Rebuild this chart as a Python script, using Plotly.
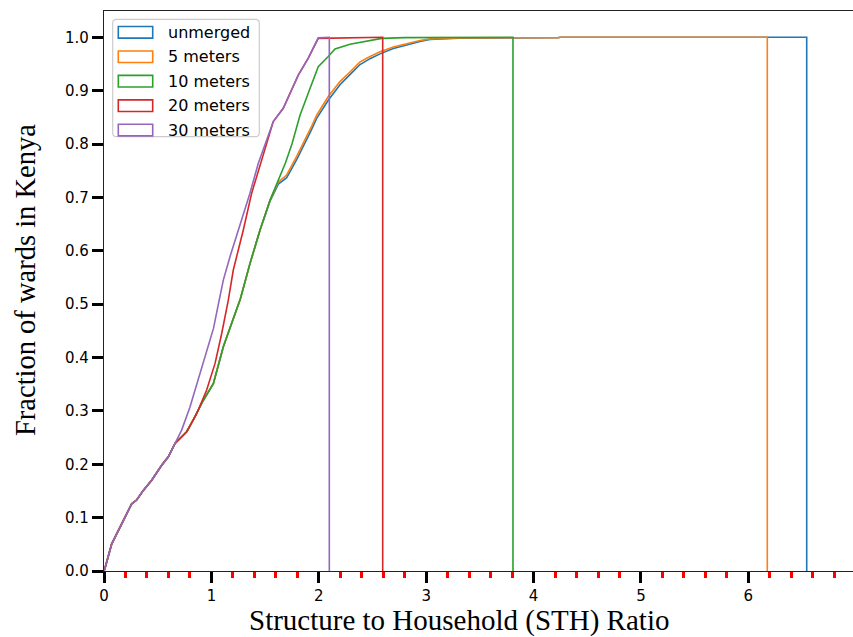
import plotly.graph_objects as go

# ---------------- data ----------------
series_names = ["unmerged", "5 meters", "10 meters", "20 meters", "30 meters"]
series_colors = ["#1f77b4", "#ff7f0e", "#2ca02c", "#d62728", "#9467bd"]

unmerged_x = [0.0, 0.009, 0.072, 0.118, 0.18, 0.258, 0.304, 0.366, 0.444, 0.537, 0.599, 0.661,
              0.77, 0.831, 0.925, 1.018, 1.111, 1.16, 1.21, 1.27, 1.359, 1.453, 1.546,
              1.623, 1.701, 1.794, 1.93, 1.98, 2.088, 2.197, 2.29, 2.384, 2.477, 2.57,
              2.694, 2.818, 2.942, 3.035, 3.3, 4.23, 4.25, 6.543]
unmerged_y = [0.0, 0.005, 0.051, 0.070, 0.095, 0.126, 0.133, 0.151, 0.170, 0.198, 0.214, 0.239,
              0.261, 0.283, 0.320, 0.351, 0.420, 0.447, 0.474, 0.510, 0.576, 0.639, 0.693,
              0.725, 0.737, 0.771, 0.826, 0.848, 0.882, 0.911, 0.930, 0.949, 0.960, 0.969,
              0.979, 0.986, 0.992, 0.996, 0.9985, 0.9995, 1.0, 1.0]

m5_x = [0.0, 0.009, 0.072, 0.118, 0.18, 0.258, 0.304, 0.366, 0.444, 0.537, 0.599, 0.661,
        0.77, 0.831, 0.925, 1.018, 1.111, 1.16, 1.21, 1.27, 1.359, 1.453, 1.546,
        1.623, 1.701, 1.794, 1.93, 1.98, 2.088, 2.197, 2.29, 2.384, 2.477, 2.57,
        2.694, 2.818, 2.942, 3.035, 3.3, 4.23, 4.25, 6.176]
m5_y = [0.0, 0.005, 0.051, 0.070, 0.095, 0.126, 0.133, 0.151, 0.170, 0.198, 0.214, 0.239,
        0.261, 0.283, 0.320, 0.351, 0.420, 0.447, 0.474, 0.510, 0.576, 0.639, 0.695,
        0.729, 0.742, 0.777, 0.832, 0.854, 0.889, 0.917, 0.935, 0.954, 0.964, 0.973,
        0.982, 0.988, 0.994, 0.997, 0.999, 0.9995, 1.0, 1.0]

m10_x = [0.0, 0.009, 0.072, 0.118, 0.18, 0.258, 0.304, 0.366, 0.444, 0.537, 0.599, 0.661,
         0.77, 0.831, 0.925, 1.018, 1.111, 1.16, 1.21, 1.27, 1.359, 1.453, 1.546,
         1.639, 1.69, 1.75, 1.825, 1.918, 1.995, 2.088, 2.151, 2.29, 2.446, 2.586, 2.8, 3.808]
m10_y = [0.0, 0.005, 0.051, 0.070, 0.095, 0.126, 0.133, 0.151, 0.170, 0.198, 0.214, 0.239,
         0.261, 0.283, 0.320, 0.351, 0.420, 0.447, 0.474, 0.510, 0.576, 0.639, 0.695,
         0.739, 0.765, 0.800, 0.854, 0.904, 0.945, 0.964, 0.978, 0.987, 0.993, 0.998, 0.9995, 1.0]

m20_x = [0.0, 0.009, 0.072, 0.118, 0.18, 0.258, 0.304, 0.366, 0.444, 0.537, 0.599, 0.661,
         0.77, 0.863, 0.956, 1.034, 1.096, 1.157, 1.204, 1.297, 1.375, 1.468, 1.546, 1.576,
         1.669, 1.732, 1.809, 1.902, 1.995, 2.595]
m20_y = [0.0, 0.005, 0.051, 0.070, 0.095, 0.126, 0.133, 0.151, 0.170, 0.198, 0.214, 0.239,
         0.261, 0.295, 0.339, 0.389, 0.445, 0.507, 0.564, 0.639, 0.708, 0.770, 0.826, 0.842,
         0.867, 0.895, 0.929, 0.961, 0.998, 1.0]

m30_x = [0.0, 0.009, 0.072, 0.118, 0.18, 0.258, 0.304, 0.366, 0.444, 0.537, 0.599, 0.661,
         0.723, 0.80, 0.894, 0.956, 1.02, 1.065, 1.111, 1.173, 1.282, 1.359, 1.437, 1.53, 1.576,
         1.669, 1.732, 1.809, 1.902, 1.995, 2.098]
m30_y = [0.0, 0.005, 0.051, 0.070, 0.095, 0.126, 0.133, 0.151, 0.170, 0.198, 0.214, 0.239,
         0.264, 0.307, 0.370, 0.414, 0.455, 0.500, 0.545, 0.589, 0.657, 0.708, 0.764, 0.814, 0.842,
         0.867, 0.895, 0.929, 0.961, 0.999, 1.0]

series_x = [unmerged_x, m5_x, m10_x, m20_x, m30_x]
series_y = [unmerged_y, m5_y, m10_y, m20_y, m30_y]

x_title = "Structure to Household (STH) Ratio"
y_title = "Fraction of wards in Kenya"

# ---------------- figure ----------------
W, H = 853, 637
L, R, T, B = 104, 0, 11, 66
PW, PH = W - L - R, H - T - B

def px_x(px):
    return (px - L) / PW

def px_y(py):
    return (H - B - py) / PH

fig = go.Figure()
for name, col, xs, ys in zip(series_names, series_colors, series_x, series_y):
    # cumulative step histogram closes back down to zero at its last edge
    fig.add_trace(go.Scatter(
        x=list(xs) + [xs[-1]], y=list(ys) + [0.0],
        mode="lines", name=name,
        line=dict(color=col, width=1.6),
        hoverinfo="skip",
    ))

tick_font = dict(family="DejaVu Sans", size=15, color="black")
fig.update_layout(
    width=W, height=H,
    margin=dict(l=L, r=R, t=T, b=B),
    plot_bgcolor="white", paper_bgcolor="white",
    showlegend=False,
)
fig.update_xaxes(
    range=[0, 6.974], tick0=0, dtick=1,
    ticks="outside", ticklen=11, tickwidth=3, tickcolor="black",
    showline=True, linecolor="#222222", linewidth=1.3, mirror=True,
    showgrid=False, zeroline=False, tickfont=tick_font,
    minor=dict(tick0=0, dtick=0.2, ticks="outside", ticklen=6, tickwidth=3,
               tickcolor="red", showgrid=False),
)
fig.update_yaxes(
    range=[0, 1.0493], tick0=0, dtick=0.1, tickformat=".1f",
    ticks="outside", ticklen=11, tickwidth=3, tickcolor="black",
    showline=True, linecolor="#222222", linewidth=1.3,
    showgrid=False, zeroline=False, tickfont=tick_font,
)

# axis titles (serif, as in the reference)
fig.add_annotation(text=x_title, xref="paper", yref="paper",
                   x=px_x(458.5), y=px_y(620.5), xanchor="center", yanchor="middle",
                   showarrow=False, borderpad=0,
                   font=dict(family="Liberation Serif", size=29, color="black"))
fig.add_annotation(text=y_title, xref="paper", yref="paper",
                   x=px_x(25), y=px_y(280), xanchor="center", yanchor="middle",
                   textangle=-90, showarrow=False,
                   font=dict(family="Liberation Serif", size=28.5, color="black"))

# legend box (matplotlib-style, rounded frame with outlined patches)
bx0, bx1, by0, by1, rr = 112.7, 259.3, 19.3, 136.7, 4
def rounded_path(x0, y0, x1, y1, r):
    X = px_x; Y = px_y
    return (f"M {X(x0 + r)},{Y(y0)} L {X(x1 - r)},{Y(y0)} Q {X(x1)},{Y(y0)} {X(x1)},{Y(y0 + r)} "
            f"L {X(x1)},{Y(y1 - r)} Q {X(x1)},{Y(y1)} {X(x1 - r)},{Y(y1)} "
            f"L {X(x0 + r)},{Y(y1)} Q {X(x0)},{Y(y1)} {X(x0)},{Y(y1 - r)} "
            f"L {X(x0)},{Y(y0 + r)} Q {X(x0)},{Y(y0)} {X(x0 + r)},{Y(y0)} Z")

fig.add_shape(type="path", xref="paper", yref="paper",
              path=rounded_path(bx0, by0, bx1, by1, rr),
              line=dict(color="#cccccc", width=1.2),
              fillcolor="rgba(255,255,255,0.8)", layer="above")

row0, row_step = 32.3, 24.45
for i, (name, col) in enumerate(zip(series_names, series_colors)):
    cy = row0 + i * row_step
    fig.add_shape(type="rect", xref="paper", yref="paper",
                  x0=px_x(118.3), x1=px_x(152.7), y0=px_y(cy + 5.8), y1=px_y(cy - 5.8),
                  line=dict(color=col, width=1.6), fillcolor="rgba(0,0,0,0)", layer="above")
    fig.add_annotation(text=name, xref="paper", yref="paper",
                       x=px_x(166.0), y=px_y(cy), xanchor="left", yanchor="middle",
                       showarrow=False,
                       font=dict(family="DejaVu Sans", size=16, color="black"))

fig.write_html("out.html")
